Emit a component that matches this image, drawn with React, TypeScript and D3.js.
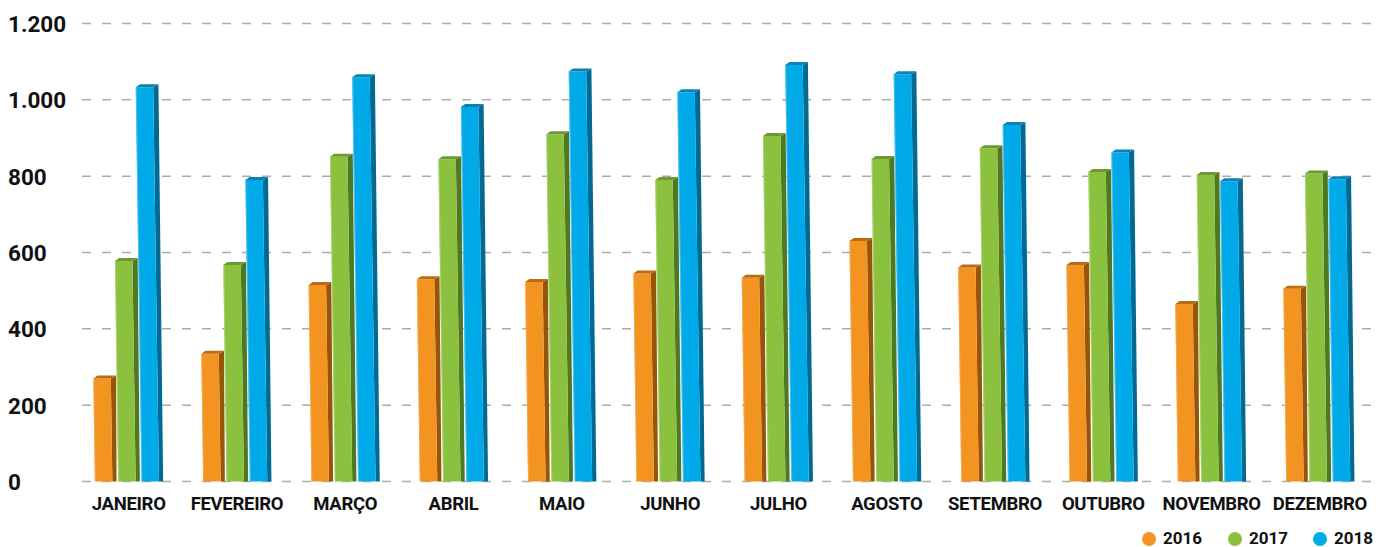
import React from "react";
import * as d3 from "d3";

const months = ["JANEIRO","FEVEREIRO","MARÇO","ABRIL","MAIO","JUNHO","JULHO","AGOSTO","SETEMBRO","OUTUBRO","NOVEMBRO","DEZEMBRO"];
const years = ["2016","2017","2018"];
const values2016 = [270,335,515,530,523,545,534,630,561,567,465,505];
const values2017 = [578,567,851,844,910,790,905,845,873,811,803,807];
const values2018 = [1033,790,1059,981,1074,1020,1091,1067,934,862,787,792];
const yTicks = [0,200,400,600,800,1000,1200];

const palette = [
  { front: "#F39320", side: "#96560A", top: "#B96C12", hi: "#F7B060" },
  { front: "#8BC13F", side: "#4E7823", top: "#6C9A30", hi: "#B5DA80" },
  { front: "#00A9E8", side: "#006A93", top: "#0883B3", hi: "#6CCDF2" },
];

const W = 1379, H = 547;
const fmt = (v: number) => d3.format(",")(v).replace(/,/g, ".");

export default function App() {
  const series = [values2016, values2017, values2018];
  const y = d3.scaleLinear().domain([0, 1200]).range([481.5, 23.5]);
  const x = d3.scaleBand<string>().domain(months).range([75, 75 + 12 * 108.3]).paddingInner(0).paddingOuter(0);
  const inner = d3.scaleBand<string>().domain(years).range([-34.3, -34.3 + 3 * 23.3]);
  const frontW = 17.5;
  const sideDx = 5.2;
  const sideDy = 3;
  const lean = 0.0145;

  const bars: JSX.Element[] = [];
  months.forEach((m, i) => {
    const cx = (x(m) as number) + x.bandwidth() / 2;
    years.forEach((yr, s) => {
      const v = series[s][i];
      const c = palette[s];
      const y0 = y(0);
      const yt = y(v);
      const shift = lean * (y0 - yt);
      const xl0 = cx + (inner(yr) as number);
      const xr0 = xl0 + frontW;
      const xlT = xl0 - shift;
      const xrT = xr0 - shift;
      const front = `M${xl0},${y0}L${xr0},${y0}L${xrT},${yt}L${xlT},${yt}Z`;
      const side = `M${xr0},${y0}L${xr0 + sideDx - 1},${y0}L${xrT + sideDx},${yt - sideDy}L${xrT},${yt}Z`;
      const top = `M${xlT},${yt}L${xrT},${yt}L${xrT + sideDx},${yt - sideDy}L${xlT + sideDx - 1},${yt - sideDy}Z`;
      bars.push(
        <g key={`${m}-${yr}`}>
          <path d={side} fill={c.side} />
          <path d={front} fill={c.front} />
          <path d={top} fill={c.top} />
          <path d={`M${xl0 + 0.5},${y0}L${xlT + 0.5},${yt + 0.5}`} stroke={c.hi} strokeWidth={1} opacity={0.7} />
        </g>
      );
    });
  });

  const legendItems = [
    { label: "2016", cx: 1149, tx: 1163 },
    { label: "2017", cx: 1235, tx: 1249 },
    { label: "2018", cx: 1320, tx: 1334 },
  ];

  return (
    <svg width={W} height={H} style={{ position: "absolute", left: 0, top: 0, background: "#fff" }}
      fontFamily="Roboto, 'Noto Sans', sans-serif">
      {yTicks.map((t) => (
        <g key={t}>
          <line x1={82} x2={1372} y1={y(t)} y2={y(t)} stroke="#ababab" strokeWidth={1.5} strokeDasharray="9 11" />
          <text x={8} y={y(t) + 8.5} fontSize={22.5} fontWeight={700} fill="#111">{fmt(t)}</text>
        </g>
      ))}
      {bars}
      {months.map((m) => (
        <text key={m} x={(x(m) as number) + x.bandwidth() / 2 - 0.5} y={509.5} textAnchor="middle"
          fontSize={18.5} fontWeight={700} fill="#111" letterSpacing={-0.3}>{m}</text>
      ))}
      {legendItems.map((l, i) => (
        <g key={l.label}>
          <circle cx={l.cx} cy={539} r={7} fill={palette[i].front} />
          <text x={l.tx} y={544} fontSize={17} fontWeight={700} fill="#111">{l.label}</text>
        </g>
      ))}
    </svg>
  );
}
